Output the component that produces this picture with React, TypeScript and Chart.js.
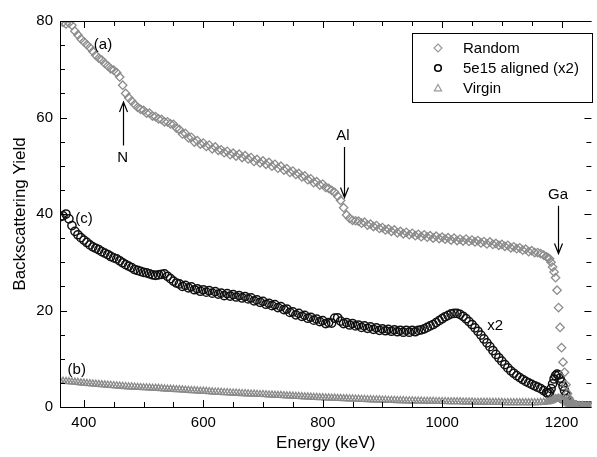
import React, { useEffect, useRef } from 'react';
import { Chart, registerables } from 'chart.js';

Chart.register(...registerables);

// Energy channels (keV)
const energy = [
  360, 365, 370, 375, 380, 385, 390, 395, 400, 405,
  410, 415, 420, 425, 430, 435, 440, 445, 450, 455,
  460, 465, 470, 475, 480, 485, 490, 495, 500, 505,
  510, 515, 520, 525, 530, 535, 540, 545, 550, 555,
  560, 565, 570, 575, 580, 585, 590, 595, 600, 605,
  610, 615, 620, 625, 630, 635, 640, 645, 650, 655,
  660, 665, 670, 675, 680, 685, 690, 695, 700, 705,
  710, 715, 720, 725, 730, 735, 740, 745, 750, 755,
  760, 765, 770, 775, 780, 785, 790, 795, 800, 805,
  810, 815, 820, 825, 830, 835, 840, 845, 850, 855,
  860, 865, 870, 875, 880, 885, 890, 895, 900, 905,
  910, 915, 920, 925, 930, 935, 940, 945, 950, 955,
  960, 965, 970, 975, 980, 985, 990, 995, 1000, 1005,
  1010, 1015, 1020, 1025, 1030, 1035, 1040, 1045, 1050, 1055,
  1060, 1065, 1070, 1075, 1080, 1085, 1090, 1095, 1100, 1105,
  1110, 1115, 1120, 1125, 1130, 1135, 1140, 1145, 1150, 1155,
  1160, 1165, 1170, 1175, 1177.5, 1180, 1182.5, 1185, 1187.5, 1190,
  1192.5, 1195, 1197.5, 1200, 1202.5, 1205, 1207.5, 1210, 1212.5, 1215,
  1217.5, 1220, 1222.5, 1225, 1230, 1235, 1240, 1245, 1250,
];

const randomYield = [
  80.0, 79.7, 79.4, 79.6, 79.1, 77.9, 77.1, 76.3, 75.7, 75.1,
  74.5, 73.7, 72.9, 72.3, 71.9, 71.2, 70.7, 70.1, 69.8, 69.3,
  68.4, 66.7, 65.0, 64.1, 63.4, 62.7, 62.1, 61.7, 61.5, 60.9,
  60.9, 60.3, 60.2, 59.7, 59.6, 59.1, 59.1, 58.7, 58.6, 57.8,
  57.5, 56.6, 56.7, 55.8, 55.9, 54.9, 55.2, 54.5, 54.7, 54.0,
  54.3, 53.5, 53.9, 53.2, 53.3, 52.7, 53.0, 52.3, 52.6, 52.0,
  52.4, 51.7, 52.1, 51.4, 51.7, 50.9, 51.3, 50.6, 51.0, 50.3,
  50.7, 49.9, 50.3, 49.5, 49.9, 49.1, 49.4, 48.6, 48.9, 48.2,
  48.4, 47.7, 47.9, 47.1, 47.3, 46.5, 46.7, 46.0, 46.2, 45.5,
  45.3, 44.9, 44.5, 43.7, 42.8, 41.3, 39.8, 39.1, 38.7, 38.6,
  38.5, 38.1, 38.3, 37.7, 37.9, 37.4, 37.6, 37.0, 37.2, 36.7,
  36.9, 36.4, 36.7, 36.1, 36.4, 35.9, 36.2, 35.7, 36.0, 35.5,
  35.8, 35.3, 35.7, 35.2, 35.5, 35.0, 35.4, 34.9, 35.2, 34.8,
  35.1, 34.6, 35.0, 34.5, 34.8, 34.4, 34.8, 34.3, 34.6, 34.2,
  34.5, 34.0, 34.3, 33.8, 34.2, 33.7, 33.9, 33.5, 33.7, 33.3,
  33.5, 33.0, 33.2, 32.8, 33.0, 32.5, 32.7, 32.2, 32.4, 32.0,
  32.0, 31.8, 31.5, 31.1, 30.9, 30.7, 30.0, 29.0, 28.0, 26.8,
  24.2, 20.6, 16.5, 12.3, 9.3, 7.2, 4.6, 2.8, 1.8, 1.2,
  0.8, 0.6, 0.5, 0.4, 0.3, 0.3, 0.2, 0.2, 0.2,
];

const alignedYield = [
  39.4, 39.6, 40.0, 39.0, 37.6, 36.4, 35.7, 35.1, 34.6, 34.1,
  33.6, 33.2, 32.9, 32.6, 32.2, 31.9, 31.6, 31.2, 30.9, 30.7,
  30.3, 29.9, 29.5, 29.2, 28.9, 28.5, 28.3, 28.1, 27.9, 27.8,
  27.6, 27.4, 27.3, 27.4, 27.5, 27.6, 27.1, 26.6, 26.1, 25.7,
  25.5, 25.0, 25.2, 24.7, 24.9, 24.3, 24.5, 24.0, 24.3, 23.8,
  24.1, 23.6, 23.9, 23.4, 23.6, 23.1, 23.5, 23.0, 23.3, 22.8,
  23.1, 22.6, 22.9, 22.4, 22.6, 22.0, 22.2, 21.7, 21.9, 21.3,
  21.5, 21.0, 21.2, 20.6, 20.8, 20.2, 20.3, 19.6, 19.7, 19.1,
  19.4, 18.8, 19.0, 18.4, 18.6, 18.0, 18.2, 17.7, 17.9, 17.3,
  17.5, 17.4, 18.4, 18.5, 17.8, 17.3, 17.5, 17.0, 17.3, 16.8,
  17.0, 16.5, 16.8, 16.3, 16.6, 16.1, 16.4, 15.9, 16.2, 15.8,
  16.1, 15.7, 16.0, 15.6, 15.9, 15.5, 15.9, 15.5, 15.9, 15.6,
  15.9, 16.0, 16.2, 16.5, 16.8, 17.1, 17.5, 17.9, 18.3, 18.7,
  19.0, 19.3, 19.4, 19.4, 19.2, 18.8, 18.3, 17.7, 17.1, 16.4,
  15.7, 14.9, 14.1, 13.3, 12.5, 11.7, 10.9, 10.2, 9.5, 8.8,
  8.1, 7.5, 7.0, 6.5, 6.1, 5.7, 5.3, 5.0, 4.7, 4.4,
  4.1, 3.8, 3.4, 3.0, 2.8, 3.0, 3.8, 4.8, 5.8, 6.5,
  6.8, 6.6, 6.0, 5.2, 4.3, 3.4, 2.5, 1.7, 1.1, 0.8,
  0.5, 0.4, 0.3, 0.3, 0.2, 0.2, 0.2, 0.2, 0.2,
];

const virginYield = [
  5.4, 5.35, 5.3, 5.25, 5.2, 5.15, 5.1, 5.0, 4.95, 4.9,
  4.85, 4.8, 4.75, 4.7, 4.65, 4.6, 4.55, 4.5, 4.45, 4.4,
  4.35, 4.3, 4.25, 4.2, 4.2, 4.15, 4.1, 4.05, 4.0, 4.0,
  3.95, 3.9, 3.9, 3.85, 3.8, 3.75, 3.7, 3.7, 3.65, 3.6,
  3.6, 3.55, 3.5, 3.45, 3.4, 3.4, 3.35, 3.3, 3.3, 3.25,
  3.2, 3.15, 3.1, 3.1, 3.05, 3.0, 3.0, 2.95, 2.9, 2.9,
  2.85, 2.8, 2.8, 2.75, 2.7, 2.7, 2.65, 2.6, 2.6, 2.55,
  2.5, 2.5, 2.45, 2.4, 2.4, 2.35, 2.3, 2.3, 2.25, 2.2,
  2.2, 2.15, 2.1, 2.1, 2.05, 2.0, 2.0, 1.95, 1.95, 1.9,
  1.9, 1.85, 1.85, 1.8, 1.8, 1.75, 1.75, 1.7, 1.7, 1.65,
  1.65, 1.6, 1.6, 1.55, 1.55, 1.5, 1.5, 1.5, 1.45, 1.45,
  1.4, 1.4, 1.4, 1.35, 1.35, 1.35, 1.3, 1.3, 1.3, 1.25,
  1.25, 1.25, 1.2, 1.2, 1.2, 1.2, 1.15, 1.15, 1.15, 1.15,
  1.1, 1.1, 1.1, 1.1, 1.1, 1.05, 1.05, 1.05, 1.05, 1.0,
  1.0, 1.0, 1.0, 1.0, 0.95, 0.95, 0.95, 0.95, 0.95, 0.9,
  0.9, 0.9, 0.9, 0.9, 0.9, 0.9, 0.9, 0.9, 0.9, 0.9,
  0.9, 0.95, 1.0, 1.05, 1.1, 1.2, 1.3, 1.45, 1.6, 1.7,
  1.75, 1.8, 1.75, 1.6, 1.4, 1.2, 1.0, 0.8, 0.6, 0.5,
  0.4, 0.3, 0.25, 0.2, 0.15, 0.1, 0.1, 0.1, 0.1,
];

const seriesNames = ['Random', '5e15 aligned (x2)', 'Virgin'];

const xTickLabels = [400, 600, 800, 1000, 1200];
const xMinorTicks = [400, 450, 500, 550, 600, 650, 700, 750, 800, 850, 900, 950, 1000, 1050, 1100, 1150, 1200];
const yTickLabels = [0, 20, 40, 60, 80];
const yMinorTicks = [0, 5, 10, 15, 20, 25, 30, 35, 40, 45, 50, 55, 60, 65, 70, 75, 80];

// Text annotations (data coordinates)
const labelTexts = ['(a)', '(c)', '(b)', 'x2', 'N', 'Al', 'Ga'];
const labelX = [432, 400, 388, 1089, 465, 834, 1194];
const labelY = [75.0, 38.9, 7.6, 16.8, 51.6, 56.2, 43.9];

// Arrows: x position, tail y, tip y (data coordinates)
const arrowX = [465, 836, 1194];
const arrowFrom = [54.2, 53.9, 41.7];
const arrowTo = [63.2, 43.4, 31.8];

const FONT = '"Liberation Sans", Arial, Helvetica, sans-serif';
const GRAY = '#8c8c8c';

function diamond(ctx: CanvasRenderingContext2D, x: number, y: number, r: number) {
  ctx.beginPath();
  ctx.moveTo(x, y - r);
  ctx.lineTo(x + r, y);
  ctx.lineTo(x, y + r);
  ctx.lineTo(x - r, y);
  ctx.closePath();
  ctx.stroke();
}

function triangle(ctx: CanvasRenderingContext2D, x: number, y: number, r: number) {
  ctx.beginPath();
  ctx.moveTo(x, y - r);
  ctx.lineTo(x + r * 0.9, y + r * 0.6);
  ctx.lineTo(x - r * 0.9, y + r * 0.6);
  ctx.closePath();
  ctx.stroke();
}

const decorPlugin = {
  id: 'decor',
  afterDatasetsDraw(chart: any) {
    const { ctx, chartArea } = chart;
    const { left, right, top, bottom } = chartArea;
    const xs = chart.scales.x;
    const ys = chart.scales.y;
    ctx.save();
    ctx.strokeStyle = '#000';
    ctx.lineWidth = 1;
    ctx.beginPath();
    ctx.moveTo(left + 0.5, top);
    ctx.lineTo(left + 0.5, bottom + 0.5);
    ctx.lineTo(right, bottom + 0.5);
    ctx.moveTo(left, top + 0.5);
    ctx.lineTo(right, top + 0.5);
    ctx.stroke();
    ctx.beginPath();
    for (const v of xMinorTicks) {
      const px = Math.round(xs.getPixelForValue(v)) + 0.5;
      const len = xTickLabels.includes(v) ? 7 : 5;
      ctx.moveTo(px, bottom);
      ctx.lineTo(px, bottom - len);
      ctx.moveTo(px, top);
      ctx.lineTo(px, top + len);
    }
    for (const v of yMinorTicks) {
      const py = Math.round(ys.getPixelForValue(v)) + 0.5;
      const len = yTickLabels.includes(v) ? 7 : 5;
      ctx.moveTo(left, py);
      ctx.lineTo(left + len, py);
      ctx.moveTo(right, py);
      ctx.lineTo(right - len, py);
    }
    ctx.stroke();

    ctx.lineWidth = 1.2;
    for (let i = 0; i < arrowX.length; i++) {
      const ax = Math.round(xs.getPixelForValue(arrowX[i])) + 0.5;
      const y0 = ys.getPixelForValue(arrowFrom[i]);
      const y1 = ys.getPixelForValue(arrowTo[i]);
      const dir = y1 < y0 ? 1 : -1;
      ctx.beginPath();
      ctx.moveTo(ax, y0);
      ctx.lineTo(ax, y1);
      ctx.moveTo(ax - 4, y1 + dir * 10);
      ctx.lineTo(ax, y1);
      ctx.lineTo(ax + 4, y1 + dir * 10);
      ctx.stroke();
    }

    ctx.fillStyle = '#000';
    ctx.font = `15px ${FONT}`;
    ctx.textAlign = 'center';
    ctx.textBaseline = 'middle';
    for (let i = 0; i < labelTexts.length; i++) {
      ctx.fillText(labelTexts[i], xs.getPixelForValue(labelX[i]), ys.getPixelForValue(labelY[i]));
    }

    const bx = 412.5, by = 33.5, bw = 180, bh = 69;
    ctx.fillStyle = '#fff';
    ctx.fillRect(bx, by, bw, bh);
    ctx.strokeStyle = '#000';
    ctx.lineWidth = 1;
    ctx.strokeRect(bx, by, bw, bh);
    const rows = [48, 68, 88];
    const sx = 438;
    ctx.lineWidth = 1.2;
    ctx.strokeStyle = '#999';
    diamond(ctx, sx, rows[0], 4);
    ctx.strokeStyle = '#000';
    ctx.lineWidth = 1.6;
    ctx.beginPath();
    ctx.arc(sx, rows[1], 3.3, 0, Math.PI * 2);
    ctx.stroke();
    ctx.strokeStyle = '#999';
    ctx.lineWidth = 1.2;
    triangle(ctx, sx, rows[2] + 0.5, 4);
    ctx.fillStyle = '#000';
    ctx.textAlign = 'left';
    ctx.font = `15px ${FONT}`;
    for (let i = 0; i < seriesNames.length; i++) {
      ctx.fillText(seriesNames[i], 463, rows[i] + 1);
    }
    ctx.restore();
  },
};

export default function App() {
  const ref = useRef<HTMLCanvasElement | null>(null);
  useEffect(() => {
    if (!ref.current) return;
    Chart.defaults.font.family = FONT;
    const toPts = (ys: number[]) => energy.map((e, i) => ({ x: e, y: ys[i] }));
    const chart = new Chart(ref.current, {
      type: 'scatter',
      data: {
        datasets: [
          {
            label: seriesNames[2],
            data: toPts(virginYield),
            pointStyle: 'triangle',
            radius: 4,
            borderColor: '#8a8a8a',
            borderWidth: 1.3,
            backgroundColor: 'rgba(0,0,0,0)',
          },
          {
            label: seriesNames[0],
            data: toPts(randomYield),
            pointStyle: 'rectRot',
            radius: 4.2,
            borderColor: GRAY,
            borderWidth: 1.3,
            backgroundColor: 'rgba(0,0,0,0)',
          },
          {
            label: seriesNames[1],
            data: toPts(alignedYield),
            pointStyle: 'circle',
            radius: 4.1,
            borderColor: '#111',
            borderWidth: 1.5,
            backgroundColor: 'rgba(0,0,0,0)',
          },
        ],
      },
      options: {
        responsive: false,
        animation: false,
        devicePixelRatio: 1,
        layout: { padding: { top: 21, right: 0, left: 0, bottom: 0 } },
        plugins: { legend: { display: false }, tooltip: { enabled: false } },
        scales: {
          x: {
            type: 'linear',
            min: 360,
            max: 1250,
            afterBuildTicks: (s: any) => {
              s.ticks = xTickLabels.map((v) => ({ value: v }));
            },
            afterFit: (s: any) => {
              s.height = 50;
            },
            ticks: {
              autoSkip: false,
              maxRotation: 0,
              color: '#000',
              font: { size: 15, family: FONT },
              padding: 7,
              callback: (v: any) => String(v),
            },
            grid: { display: false, drawTicks: false },
            border: { display: false },
            title: {
              display: true,
              text: 'Energy (keV)',
              color: '#000',
              font: { size: 17, family: FONT },
              padding: { top: 0, bottom: 3 },
            },
          },
          y: {
            type: 'linear',
            min: 0,
            max: 80,
            afterBuildTicks: (s: any) => {
              s.ticks = yTickLabels.map((v) => ({ value: v }));
            },
            afterFit: (s: any) => {
              s.width = 60;
            },
            ticks: {
              color: '#000',
              font: { size: 15, family: FONT },
              padding: 7,
              callback: (v: any) => String(v),
            },
            grid: { display: false, drawTicks: false },
            border: { display: false },
            title: {
              display: true,
              text: 'Backscattering Yield',
              color: '#000',
              font: { size: 17, family: FONT },
              padding: { top: 10, bottom: 0 },
            },
          },
        },
      },
      plugins: [decorPlugin],
    });
    return () => chart.destroy();
  }, []);
  return (
    <div style={{ position: 'absolute', left: 0, top: 0, width: 597, height: 457, background: '#fff' }}>
      <canvas ref={ref} width={597} height={457} />
    </div>
  );
}
